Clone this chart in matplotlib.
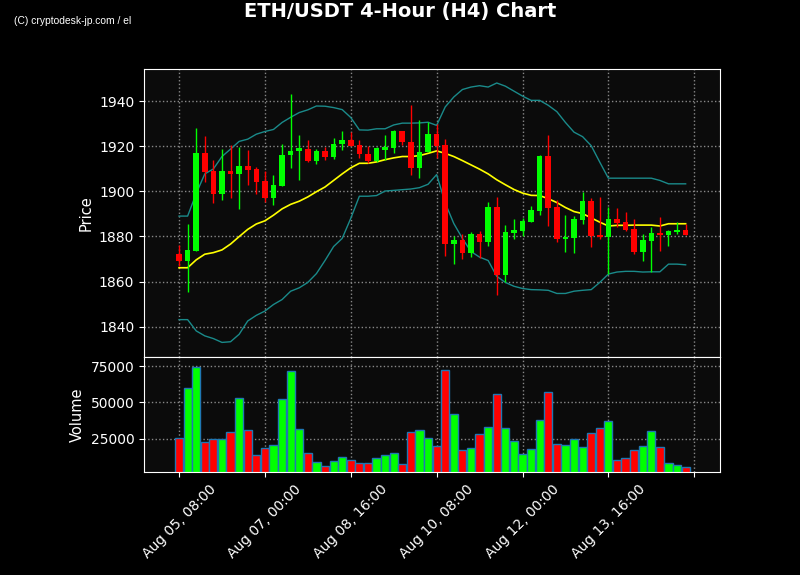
import matplotlib
matplotlib.use('Agg')
from matplotlib import pyplot as plt
from matplotlib.ticker import FuncFormatter, MultipleLocator
import numpy as np
import pandas as pd

# 4h candles, starting Aug 05 08:00
times = pd.date_range('2023-08-05 08:00', periods=60, freq='4h')

opens = [1872.3, 1868.9, 1873.6, 1917.1, 1908.8, 1898.8, 1909.2, 1907.6, 1911.0, 1910.0,
         1904.4, 1897.0, 1902.3, 1916.0, 1917.7, 1918.9, 1913.6, 1918.0, 1915.0, 1920.8,
         1922.8, 1920.6, 1916.7, 1913.6, 1918.5, 1919.0, 1926.7, 1922.0, 1910.2, 1917.6,
         1925.5, 1920.6, 1876.8, 1878.4, 1872.8, 1881.1, 1877.7, 1892.9, 1862.7, 1881.6,
         1882.5, 1886.5, 1891.3, 1915.8, 1893.0, 1878.9, 1879.4, 1887.2, 1895.6, 1880.6,
         1879.9, 1887.7, 1886.3, 1883.2, 1873.3, 1878.1, 1881.7, 1880.8, 1881.9, 1882.8]
closes = [1868.9, 1874.0, 1917.1, 1908.5, 1898.8, 1909.2, 1907.6, 1911.0, 1909.6, 1904.1,
          1897.0, 1902.6, 1916.2, 1918.0, 1919.0, 1913.6, 1918.0, 1915.1, 1921.1, 1922.8,
          1920.1, 1916.4, 1913.6, 1919.0, 1919.5, 1926.8, 1921.8, 1910.2, 1917.6, 1925.5,
          1920.2, 1876.8, 1878.4, 1872.8, 1881.1, 1877.7, 1892.9, 1862.7, 1881.9, 1882.8,
          1886.8, 1891.6, 1915.8, 1892.8, 1878.9, 1879.9, 1887.7, 1895.6, 1880.3, 1879.9,
          1887.7, 1885.9, 1882.8, 1873.3, 1878.4, 1881.5, 1880.8, 1882.4, 1882.8, 1880.5]
highs = [1876.4, 1885.3, 1928.0, 1924.5, 1913.9, 1918.7, 1920.6, 1919.5, 1918.3, 1910.7,
         1908.8, 1907.3, 1921.0, 1942.9, 1924.9, 1922.7, 1918.6, 1919.5, 1923.6, 1926.5,
         1926.2, 1922.7, 1919.9, 1919.7, 1924.9, 1927.1, 1926.7, 1938.1, 1931.5, 1930.5,
         1929.9, 1923.1, 1880.3, 1881.0, 1881.8, 1882.4, 1895.4, 1897.5, 1885.0, 1887.5,
         1888.0, 1893.4, 1916.2, 1924.9, 1896.0, 1889.3, 1889.0, 1899.7, 1897.0, 1897.5,
         1893.1, 1892.8, 1891.0, 1887.9, 1881.0, 1884.3, 1888.4, 1883.0, 1886.5, 1885.6]
lows = [1867.0, 1855.4, 1873.6, 1904.1, 1895.0, 1896.0, 1896.9, 1892.1, 1902.9, 1899.0,
        1895.3, 1894.1, 1902.3, 1910.4, 1905.1, 1912.9, 1912.1, 1913.9, 1914.4, 1918.3,
        1920.1, 1914.8, 1912.6, 1912.9, 1913.9, 1916.8, 1920.6, 1907.3, 1906.0, 1917.2,
        1914.8, 1871.4, 1867.7, 1870.0, 1870.8, 1870.4, 1875.8, 1853.8, 1860.0, 1878.9,
        1880.3, 1886.5, 1889.7, 1884.6, 1877.7, 1873.3, 1872.8, 1885.3, 1875.5, 1879.0,
        1863.4, 1884.3, 1882.2, 1872.1, 1869.3, 1864.2, 1873.5, 1875.9, 1881.0, 1880.5]
volumes = [25690, 59720, 74300, 22910, 24500, 24800, 29860, 52780, 31250, 13420,
           18280, 20830, 52080, 71530, 31940, 15270, 9020, 6240, 9720, 12500,
           10410, 8330, 8330, 11800, 13890, 15270, 7640, 29860, 31250, 25690,
           20140, 72220, 41660, 17130, 18750, 28470, 33330, 55560, 32640, 23610,
           14580, 18050, 37500, 56940, 21530, 20830, 25000, 19440, 29170, 32640,
           36810, 10410, 11800, 17360, 20140, 30560, 19440, 8330, 6940, 5560]

ma = [1866.1, 1866.1, 1869.6, 1872.1, 1872.8, 1874.0, 1876.6, 1879.9, 1883.1, 1885.5,
      1886.9, 1889.4, 1892.2, 1894.2, 1895.6, 1897.5, 1899.8, 1901.9, 1904.8, 1907.7,
      1910.4, 1912.4, 1912.4, 1913.0, 1914.0, 1914.8, 1915.4, 1915.4, 1915.8, 1916.8,
      1917.9, 1916.8, 1915.4, 1913.6, 1911.7, 1909.8, 1907.7, 1905.1, 1902.9, 1900.8,
      1899.2, 1898.2, 1898.1, 1896.7, 1895.0, 1892.8, 1891.0, 1890.1, 1888.2, 1886.3,
      1884.6, 1884.9, 1884.9, 1885.0, 1885.0, 1885.0, 1884.6, 1885.6, 1885.6, 1885.6]
upper = [1889.0, 1889.0, 1899.0, 1907.7, 1909.9, 1915.4, 1918.7, 1922.1, 1923.1, 1925.3,
         1926.5, 1927.4, 1930.5, 1932.8, 1934.9, 1936.1, 1937.8, 1937.7, 1937.1, 1936.2,
         1932.7, 1927.2, 1927.1, 1927.7, 1927.7, 1929.4, 1930.2, 1930.2, 1930.3, 1930.6,
         1929.2, 1937.4, 1941.8, 1945.1, 1946.2, 1946.8, 1946.2, 1948.0, 1946.6, 1944.4,
         1942.2, 1940.3, 1940.3, 1938.1, 1935.3, 1930.5, 1926.2, 1924.2, 1920.2, 1912.9,
         1905.8, 1905.8, 1905.8, 1905.8, 1905.8, 1905.8, 1904.8, 1903.3, 1903.3, 1903.3]
lower = [1843.1, 1843.1, 1838.1, 1835.9, 1834.7, 1833.0, 1833.3, 1836.6, 1842.5, 1845.0,
         1846.9, 1849.8, 1852.0, 1855.7, 1857.2, 1859.6, 1863.5, 1869.3, 1875.5, 1879.1,
         1888.0, 1897.8, 1897.8, 1898.1, 1900.1, 1900.4, 1900.7, 1901.0, 1901.6, 1903.1,
         1907.4, 1894.8, 1885.7, 1879.1, 1873.3, 1870.8, 1869.3, 1862.3, 1859.6, 1857.9,
         1856.9, 1856.4, 1856.3, 1856.1, 1854.7, 1854.7, 1855.7, 1856.1, 1856.4, 1859.6,
         1863.3, 1864.2, 1864.5, 1864.5, 1864.2, 1864.3, 1864.3, 1867.7, 1867.7, 1867.4]

GREEN = '#00ff00'
RED = '#ff0000'
BAND = '#1a8a8a'

x = np.arange(len(times))
o = np.array(opens)
c = np.array(closes)
up = c >= o
colors = [GREEN if u else RED for u in up]

fig = plt.figure(figsize=(8, 5.75), dpi=100, facecolor='black')
ax = fig.add_axes([0.18, 0.379, 0.72, 0.501])
axv = fig.add_axes([0.18, 0.179, 0.72, 0.2], sharex=ax)

for a in (ax, axv):
    a.set_facecolor('#0b0b0b')
    for s in a.spines.values():
        s.set_color('white')
    a.tick_params(colors='white', labelsize=10)
    a.grid(True, color='#888888', linestyle=':', linewidth=1)
    a.set_axisbelow(True)

# bands and moving average
ax.plot(x, upper, color=BAND, lw=1)
ax.plot(x, lower, color=BAND, lw=1)
ax.plot(x, ma, color='yellow', lw=1.2)

# candles
ax.vlines(x, lows, highs, colors=colors, lw=1)
ax.bar(x, np.abs(c - o), bottom=np.minimum(o, c), width=0.65, color=colors, zorder=3)

ax.set_ylim(1826.5, 1954.2)
ax.yaxis.set_major_locator(MultipleLocator(20))
ax.set_ylabel('Price', color='white', fontsize=10.5)
ax.tick_params(axis='x', labelbottom=False)

axv.bar(x, volumes, width=0.95, color=colors, edgecolor='#1f77b4', linewidth=1)
axv.set_ylim(1850, 81300)
axv.set_yticks([25000, 50000, 75000])
axv.set_ylabel('Volume', color='white', fontsize=10.5)

def fmt(v, pos):
    i = int(round(v))
    if 0 <= i < len(times):
        return times[i].strftime('%b %d, %H:%M')
    return ''

axv.xaxis.set_major_locator(MultipleLocator(10))
axv.xaxis.set_major_formatter(FuncFormatter(fmt))
axv.set_xlim(-4.08, 63.0)
plt.setp(axv.get_xticklabels(), rotation=45)

fig.suptitle('ETH/USDT 4-Hour (H4) Chart', color='white', fontsize=14, fontweight='bold', y=0.996)
fig.text(0.018, 0.963, '(C) cryptodesk-jp.com / el', color='white', fontsize=7.4,
         family='Liberation Sans', va='center')

plt.savefig('out.png', facecolor='black')
plt.close()
